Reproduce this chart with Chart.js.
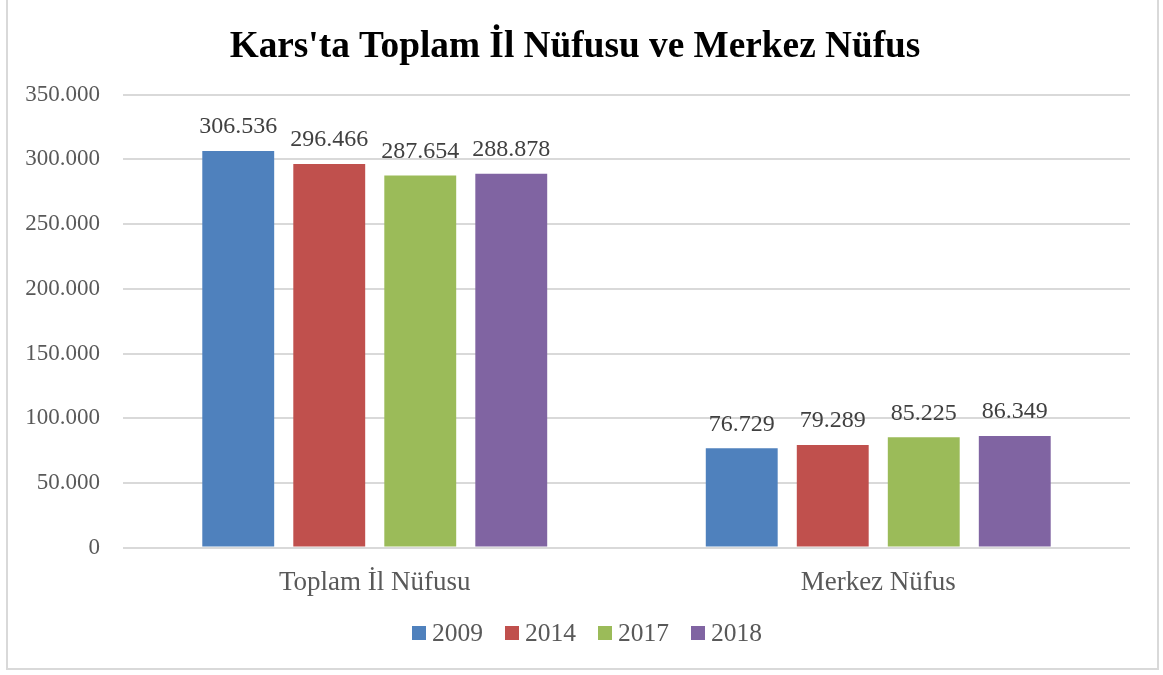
<!DOCTYPE html>
<html>
<head>
<meta charset="utf-8">
<script src="https://cdn.jsdelivr.net/npm/chart.js@4/dist/chart.umd.min.js"></script>
<style>
html,body{margin:0;padding:0;background:#fff;}
#wrap{width:1163px;height:675px;position:relative;}
</style>
</head>
<body>
<div id="wrap"><canvas id="c" width="1163" height="675"></canvas></div>
<script>
const categories = ["Toplam İl Nüfusu", "Merkez Nüfus"];
const years = ["2009", "2014", "2017", "2018"];
const values2009 = [306536, 76729];
const values2014 = [296466, 79289];
const values2017 = [287654, 85225];
const values2018 = [288878, 86349];
const colors = ["#4F81BD", "#C0504D", "#9BBB59", "#8064A2"];
const yMax = 350000;
const yStep = 50000;

const FONT = "'Liberation Serif', 'Times New Roman', serif";
const fmt = v => String(v).replace(/\B(?=(\d{3})+(?!\d))/g, '.');

const seriesValues = [values2009, values2014, values2017, values2018];

const frame = {
  id: 'frame',
  beforeDraw(chart) {
    const ctx = chart.ctx;
    ctx.save();
    ctx.fillStyle = '#fff';
    ctx.fillRect(0, 0, chart.width, chart.height);
    ctx.strokeStyle = '#d9d9d9';
    ctx.lineWidth = 2;
    ctx.strokeRect(7, -2, 1151, 671);
    ctx.restore();
  }
};

const labels = {
  id: 'valueLabels',
  afterDatasetsDraw(chart) {
    const ctx = chart.ctx;
    ctx.save();
    ctx.font = '24px ' + FONT;
    ctx.fillStyle = '#404040';
    ctx.textAlign = 'center';
    ctx.textBaseline = 'bottom';
    chart.data.datasets.forEach((ds, i) => {
      const meta = chart.getDatasetMeta(i);
      meta.data.forEach((el, j) => {
        ctx.fillText(fmt(ds.data[j]), el.x, el.y - 12);
      });
    });
    ctx.restore();
  }
};

// Legend drawn from dataset labels/colors, centred below the axis
const legendDraw = {
  id: 'customLegend',
  afterDraw(chart) {
    const ctx = chart.ctx;
    ctx.save();
    ctx.font = '25.5px ' + FONT;
    const box = 14, gapText = 6, gapItem = 22;
    const items = chart.data.datasets.map(ds => ({ text: ds.label, color: ds.backgroundColor, w: ctx.measureText(ds.label).width }));
    const total = items.reduce((s, it) => s + box + gapText + it.w, 0) + gapItem * (items.length - 1);
    let x = 587 - total / 2;
    const cy = 633;
    ctx.textBaseline = 'middle';
    ctx.textAlign = 'left';
    items.forEach(it => {
      ctx.fillStyle = it.color;
      ctx.fillRect(x, cy - box / 2, box, box);
      ctx.fillStyle = '#595959';
      ctx.fillText(it.text, x + box + gapText, cy + 1);
      x += box + gapText + it.w + gapItem;
    });
    ctx.restore();
  }
};

new Chart(document.getElementById('c'), {
  type: 'bar',
  data: {
    labels: categories,
    datasets: years.map((y, i) => ({
      label: y,
      data: seriesValues[i],
      backgroundColor: colors[i],
      borderWidth: 0,
      categoryPercentage: 0.723,
      barPercentage: 0.79
    }))
  },
  options: {
    responsive: false,
    animation: false,
    devicePixelRatio: 1,
    layout: { padding: { left: 20, right: 33, top: 0, bottom: 65 } },
    plugins: {
      title: {
        display: true,
        text: "Kars'ta Toplam İl Nüfusu ve Merkez Nüfus",
        color: '#000',
        font: { family: FONT, size: 37.3, weight: 'bold' },
        padding: { top: 25, bottom: 25 }
      },
      legend: { display: false },
      tooltip: { enabled: false }
    },
    scales: {
      x: {
        grid: { display: false },
        border: { display: false },
        ticks: { color: '#595959', font: { family: FONT, size: 27 }, padding: 11 }
      },
      y: {
        min: 0,
        max: yMax,
        grid: { color: '#d9d9d9', lineWidth: 2, drawTicks: false },
        border: { display: false },
        ticks: {
          stepSize: yStep,
          color: '#595959',
          font: { family: FONT, size: 23 },
          padding: 23,
          callback: v => fmt(v)
        },
        afterFit(scale) { scale.width = 103; }
      }
    }
  },
  plugins: [frame, labels, legendDraw]
});
</script>
</body>
</html>
